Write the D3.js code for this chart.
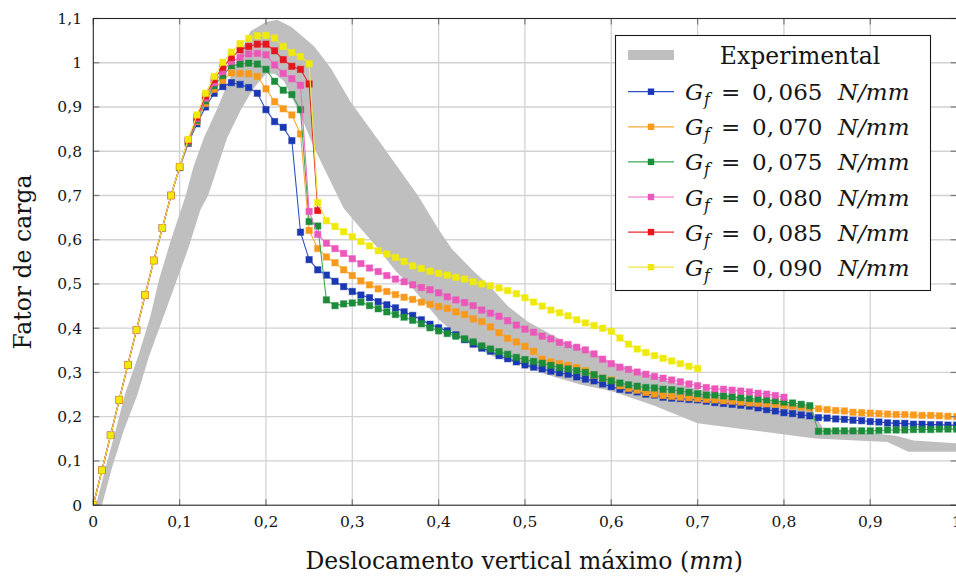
<!DOCTYPE html>
<html>
<head>
<meta charset="utf-8">
<script src="https://cdn.jsdelivr.net/npm/d3@7/dist/d3.min.js"></script>
<style>
  body { margin: 0; background: #fff; }
  svg { display: block; }
  text { font-family: "DejaVu Serif", "Liberation Serif", serif; fill: #151515; }
</style>
</head>
<body>
<svg id="chart" width="956" height="576"></svg>
<script>
// ---- axis ticks ----
const xTicks = [0, 0.1, 0.2, 0.3, 0.4, 0.5, 0.6, 0.7, 0.8, 0.9, 1];
const xTickLabels = ["0", "0,1", "0,2", "0,3", "0,4", "0,5", "0,6", "0,7", "0,8", "0,9", "1"];
const yTicks = [0, 0.1, 0.2, 0.3, 0.4, 0.5, 0.6, 0.7, 0.8, 0.9, 1, 1.1];
const yTickLabels = ["0", "0,1", "0,2", "0,3", "0,4", "0,5", "0,6", "0,7", "0,8", "0,9", "1", "1,1"];

// displacement increment of the numerical results (mm)
const dispStep = 0.01;

// ---- numerical load factor, one value per displacement step ----
const gf065 = [0, 0.079, 0.158, 0.238, 0.317, 0.396, 0.475, 0.553, 0.627, 0.700, 0.763,
  0.818, 0.862, 0.900, 0.931, 0.946, 0.955, 0.951, 0.944, 0.931, 0.894, 0.867, 0.854, 0.824, 0.617, 0.555, 0.532,
  0.520, 0.506, 0.494, 0.483, 0.475, 0.469, 0.460, 0.453, 0.446, 0.437, 0.429, 0.419, 0.409, 0.401,
  0.394, 0.385, 0.374, 0.364, 0.355, 0.348, 0.338, 0.331, 0.324, 0.317,
  0.312, 0.308, 0.303, 0.299, 0.296, 0.290, 0.285, 0.281, 0.274, 0.268,
  0.262, 0.260, 0.256, 0.251, 0.249, 0.244, 0.242, 0.241, 0.239, 0.238,
  0.235, 0.232, 0.230, 0.228, 0.226, 0.224, 0.220, 0.216, 0.213, 0.209,
  0.207, 0.204, 0.202, 0.198, 0.197, 0.195, 0.194, 0.192, 0.191, 0.189,
  0.188, 0.186, 0.185, 0.185, 0.183, 0.183, 0.182, 0.182, 0.181, 0.181];

const gf070 = [0, 0.079, 0.158, 0.238, 0.317, 0.396, 0.475, 0.553, 0.627, 0.700, 0.764,
  0.821, 0.867, 0.908, 0.940, 0.960, 0.977, 0.976, 0.975, 0.969, 0.941, 0.912, 0.896, 0.882, 0.839, 0.621, 0.580,
  0.561, 0.548, 0.532, 0.519, 0.507, 0.498, 0.489, 0.483, 0.476, 0.470, 0.465, 0.459, 0.454, 0.449,
  0.445, 0.437, 0.431, 0.421, 0.415, 0.403, 0.390, 0.377, 0.369, 0.359,
  0.348, 0.330, 0.324, 0.320, 0.316, 0.311, 0.304, 0.294, 0.287, 0.283,
  0.270, 0.264, 0.260, 0.255, 0.251, 0.248, 0.246, 0.244, 0.243, 0.241,
  0.239, 0.238, 0.236, 0.235, 0.233, 0.231, 0.230, 0.229, 0.228, 0.226,
  0.224, 0.222, 0.220, 0.218, 0.216, 0.214, 0.213, 0.210, 0.209, 0.208,
  0.207, 0.206, 0.205, 0.205, 0.204, 0.203, 0.203, 0.202, 0.201, 0.200];

const gf075 = [0, 0.079, 0.158, 0.238, 0.317, 0.396, 0.475, 0.553, 0.627, 0.700, 0.764,
  0.822, 0.870, 0.914, 0.948, 0.971, 0.993, 0.997, 0.999, 0.997, 0.985, 0.958, 0.938, 0.928, 0.894, 0.641, 0.631,
  0.464, 0.451, 0.455, 0.457, 0.459, 0.451, 0.444, 0.437, 0.431, 0.425, 0.418, 0.410, 0.401, 0.394,
  0.388, 0.382, 0.376, 0.369, 0.360, 0.353, 0.347, 0.341, 0.334, 0.329,
  0.325, 0.321, 0.316, 0.311, 0.308, 0.304, 0.300, 0.295, 0.287, 0.281,
  0.276, 0.272, 0.269, 0.266, 0.265, 0.262, 0.261, 0.258, 0.255, 0.252,
  0.249, 0.249, 0.247, 0.245, 0.243, 0.241, 0.240, 0.238, 0.236, 0.233,
  0.231, 0.228, 0.225, 0.167, 0.167, 0.168, 0.168, 0.168, 0.168, 0.168,
  0.169, 0.170, 0.170, 0.170, 0.171, 0.171, 0.171, 0.172, 0.172, 0.172];

const gf080 = [0, 0.079, 0.158, 0.238, 0.317, 0.396, 0.475, 0.553, 0.627, 0.700, 0.765,
  0.824, 0.874, 0.920, 0.955, 0.980, 1.003, 1.012, 1.020, 1.021, 1.018, 0.995, 0.976, 0.964, 0.949, 0.664, 0.612,
  0.592, 0.580, 0.569, 0.557, 0.546, 0.536, 0.528, 0.519, 0.511, 0.505, 0.498, 0.492, 0.487, 0.480,
  0.471, 0.464, 0.458, 0.451, 0.441, 0.434, 0.427, 0.417, 0.407, 0.398,
  0.391, 0.382, 0.376, 0.368, 0.363, 0.357, 0.351, 0.342, 0.330, 0.320,
  0.312, 0.307, 0.301, 0.296, 0.291, 0.287, 0.283, 0.279, 0.274, 0.270,
  0.266, 0.263, 0.262, 0.260, 0.258, 0.256, 0.253, 0.251, 0.248, 0.244];

const gf085 = [0, 0.079, 0.158, 0.238, 0.317, 0.396, 0.475, 0.553, 0.627, 0.700, 0.765,
  0.825, 0.877, 0.925, 0.962, 0.990, 1.012, 1.029, 1.037, 1.042, 1.042, 1.027, 1.007, 0.992, 0.985, 0.952, 0.666];

const gf090 = [0, 0.079, 0.158, 0.238, 0.317, 0.396, 0.475, 0.553, 0.627, 0.700, 0.765,
  0.827, 0.882, 0.931, 0.969, 1.001, 1.024, 1.043, 1.055, 1.061, 1.062, 1.056, 1.037, 1.023, 1.014, 0.998, 0.684,
  0.643, 0.630, 0.618, 0.607, 0.596, 0.586, 0.575, 0.568, 0.560, 0.551, 0.541, 0.535, 0.529, 0.524,
  0.520, 0.515, 0.511, 0.505, 0.500, 0.496, 0.491, 0.485, 0.478, 0.469,
  0.459, 0.450, 0.441, 0.435, 0.428, 0.419, 0.412, 0.406, 0.400, 0.393,
  0.378, 0.364, 0.353, 0.345, 0.338, 0.332, 0.326, 0.320, 0.314, 0.309];

const seriesLabels = ["0,\u2009065", "0,\u2009070", "0,\u2009075", "0,\u2009080", "0,\u2009085", "0,\u2009090"];
const seriesColors = ["#1a38b2", "#f99a1c", "#1b8c3a", "#ec57bb", "#e5161f", "#efea0c"];
const seriesLineColors = ["#2f4fc4", "#f9a93a", "#3fa859", "#ef6fc6", "#ea2a2f", "#ece544"];
const seriesValues = [gf065, gf070, gf075, gf080, gf085, gf090];

// ---- experimental envelope: upper and lower bounds [displacement, load factor] ----
const expUpper = [[0.003, 0], [0.0145, 0.087], [0.026, 0.17], [0.037, 0.253], [0.053, 0.343],
  [0.066, 0.426], [0.076, 0.509], [0.09, 0.60], [0.107, 0.70], [0.116, 0.765], [0.128, 0.83],
  [0.143, 0.894], [0.159, 0.969], [0.17, 1.02], [0.182, 1.071], [0.20, 1.092], [0.213, 1.097],
  [0.23, 1.08], [0.256, 1.037], [0.275, 0.988], [0.298, 0.912], [0.337, 0.807], [0.376, 0.70],
  [0.40, 0.623], [0.415, 0.58], [0.44, 0.53], [0.46, 0.494], [0.48, 0.45], [0.503, 0.415],
  [0.55, 0.365], [0.60, 0.325], [0.65, 0.29], [0.70, 0.262], [0.75, 0.245], [0.80, 0.232],
  [0.83, 0.222], [0.845, 0.175], [0.90, 0.163], [0.93, 0.157], [0.95, 0.146], [1.0, 0.14]];
const expLower = [[0.010, 0], [0.022, 0.087], [0.0355, 0.17], [0.051, 0.249], [0.0645, 0.336],
  [0.080, 0.419], [0.0955, 0.502], [0.11, 0.58], [0.124, 0.667], [0.133, 0.70], [0.144, 0.765],
  [0.155, 0.83], [0.171, 0.894], [0.185, 0.94], [0.20, 0.975], [0.21, 0.975], [0.221, 0.958],
  [0.240, 0.882], [0.256, 0.807], [0.275, 0.731], [0.290, 0.671], [0.31, 0.625], [0.33, 0.58],
  [0.35, 0.53], [0.37, 0.49], [0.40, 0.42], [0.42, 0.385], [0.44, 0.36], [0.465, 0.335],
  [0.50, 0.315], [0.52, 0.298], [0.565, 0.272], [0.60, 0.258], [0.65, 0.225], [0.70, 0.185],
  [0.76, 0.17], [0.836, 0.151], [0.92, 0.143], [0.944, 0.121], [1.0, 0.121]];

// ---- layout ----
const svg = d3.select("#chart");
const plot = { left: 93.3, right: 956.6, top: 18.5, bottom: 505.2 };
const x = d3.scaleLinear().domain([0, 1]).range([plot.left, plot.right]);
const y = d3.scaleLinear().domain([0, 1.1]).range([plot.bottom, plot.top]);

svg.append("defs").append("clipPath").attr("id", "plotClip")
  .append("rect").attr("x", plot.left).attr("y", plot.top)
  .attr("width", plot.right - plot.left).attr("height", plot.bottom - plot.top);

// grid
const grid = svg.append("g").attr("stroke", "#d2d2d2").attr("stroke-width", 1.3);
grid.selectAll("line.vx").data(xTicks.slice(1, -1)).join("line")
  .attr("x1", d => x(d)).attr("x2", d => x(d)).attr("y1", plot.top).attr("y2", plot.bottom);
grid.selectAll("line.hy").data(yTicks.slice(1, -1)).join("line")
  .attr("y1", d => y(d)).attr("y2", d => y(d)).attr("x1", plot.left).attr("x2", plot.right);

// experimental envelope
const band = d3.line().x(d => x(d[0])).y(d => y(d[1]));
svg.append("path")
  .attr("clip-path", "url(#plotClip)")
  .attr("d", band(expUpper.concat(expLower.slice().reverse())) + "Z")
  .attr("fill", "#bfbfbf");

// numerical curves
const curve = d3.line().x((d, i) => x(i * dispStep)).y(d => y(d));
const mk = 6.4;
seriesValues.forEach((vals, k) => {
  const g = svg.append("g").attr("clip-path", "url(#plotClip)");
  g.append("path").attr("d", curve(vals))
    .attr("fill", "none").attr("stroke", seriesLineColors[k]).attr("stroke-width", 1.1);
  g.selectAll("rect").data(vals).join("rect")
    .attr("x", (d, i) => x(i * dispStep) - mk / 2)
    .attr("y", d => y(d) - mk / 2)
    .attr("width", mk).attr("height", mk)
    .attr("fill", seriesColors[k])
    .attr("stroke", seriesColors[k]).attr("stroke-opacity", 0.45).attr("stroke-width", 1);
});

// tick marks (inside, on every side)
const ticks = svg.append("g").attr("stroke", "#7a7a7a").attr("stroke-width", 1.2);
const tl = 6;
xTicks.forEach(t => {
  ticks.append("line").attr("x1", x(t)).attr("x2", x(t)).attr("y1", plot.bottom).attr("y2", plot.bottom - tl);
  ticks.append("line").attr("x1", x(t)).attr("x2", x(t)).attr("y1", plot.top).attr("y2", plot.top + tl);
});
yTicks.forEach(t => {
  ticks.append("line").attr("y1", y(t)).attr("y2", y(t)).attr("x1", plot.left).attr("x2", plot.left + tl);
  ticks.append("line").attr("y1", y(t)).attr("y2", y(t)).attr("x1", plot.right).attr("x2", plot.right - tl);
});

// frame
svg.append("rect")
  .attr("x", plot.left).attr("y", plot.top)
  .attr("width", plot.right - plot.left).attr("height", plot.bottom - plot.top)
  .attr("fill", "none").attr("stroke", "#262626").attr("stroke-width", 1.1);

// tick labels
svg.append("g").selectAll("text").data(xTicks).join("text")
  .attr("x", d => x(d)).attr("y", 527)
  .attr("text-anchor", "middle").attr("font-size", 15.5)
  .text((d, i) => xTickLabels[i]);
svg.append("g").selectAll("text").data(yTicks).join("text")
  .attr("x", 82).attr("y", d => y(d) + 5.5)
  .attr("text-anchor", "end").attr("font-size", 15.5)
  .text((d, i) => yTickLabels[i]);

// axis titles
const xt = svg.append("text").attr("x", (plot.left + 955) / 2).attr("y", 569)
  .attr("text-anchor", "middle").attr("font-size", 23.5);
xt.append("tspan").text("Deslocamento vertical máximo (");
xt.append("tspan").attr("font-style", "italic").text("mm");
xt.append("tspan").text(")");

svg.append("text")
  .attr("transform", "translate(31,262) rotate(-90)")
  .attr("text-anchor", "middle").attr("font-size", 23.5)
  .text("Fator de carga");

// legend
const lg = svg.append("g");
lg.append("rect").attr("x", 615.5).attr("y", 35.5).attr("width", 315).attr("height", 255)
  .attr("fill", "#fff").attr("stroke", "#1a1a1a").attr("stroke-width", 1.1);
const rowY = [55, 91.7, 126.8, 161.9, 197, 232.1, 267.2];
lg.append("rect").attr("x", 628).attr("y", rowY[0] - 5).attr("width", 46).attr("height", 10)
  .attr("fill", "#bfbfbf");
lg.append("text").attr("x", 800).attr("y", rowY[0] + 8.5)
  .attr("text-anchor", "middle").attr("font-size", 23.5).text("Experimental");
seriesLabels.forEach((lab, k) => {
  const cy = rowY[k + 1];
  lg.append("line").attr("x1", 628).attr("x2", 674).attr("y1", cy).attr("y2", cy)
    .attr("stroke", seriesLineColors[k]).attr("stroke-width", 1.2);
  lg.append("rect").attr("x", 651 - mk / 2).attr("y", cy - mk / 2).attr("width", mk).attr("height", mk)
    .attr("fill", seriesColors[k]);
  const base = cy + 8.5;
  const t = lg.append("text").attr("y", base).attr("font-size", 23);
  t.append("tspan").attr("x", 685).attr("font-style", "italic").text("G");
  t.append("tspan").attr("x", 704).attr("dy", 5).attr("font-style", "italic").attr("font-size", 16).text("f");
  t.append("tspan").attr("x", 721).attr("dy", -5).text("=");
  t.append("tspan").attr("x", 752).text(lab);
  t.append("tspan").attr("x", 838).attr("font-style", "italic").text("N/mm");
});
</script>
</body>
</html>
